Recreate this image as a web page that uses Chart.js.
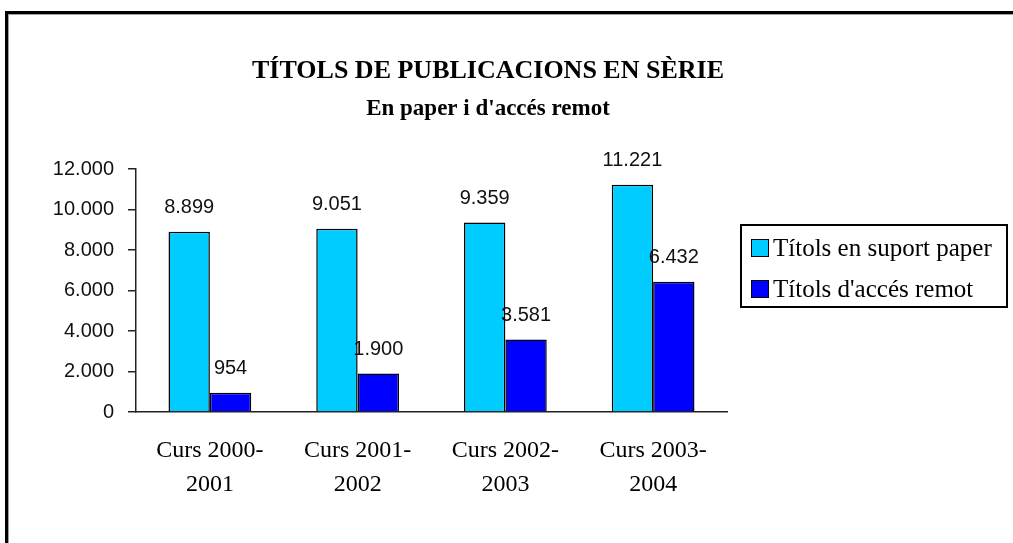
<!DOCTYPE html>
<html>
<head>
<meta charset="utf-8">
<title>Títols de publicacions en sèrie</title>
<script src="https://cdn.jsdelivr.net/npm/chart.js@4.4.1/dist/chart.umd.min.js"></script>
<style>
  html, body { margin: 0; padding: 0; background: #fff; overflow: hidden; }
  #wrap { position: relative; width: 1013px; height: 543px; }
  #frame {
    position: absolute; left: 5px; top: 11px; width: 2000px; height: 2000px;
    border-top: 3px solid #000; border-left: 3px solid #000;
    box-shadow: inset 1px 1px 0 #a0a0a0;
    pointer-events: none;
  }
  canvas { position: absolute; left: 0; top: 0; }
</style>
</head>
<body>
<div id="wrap">
  <canvas id="chart" width="1013" height="543"></canvas>
  <div id="frame"></div>
</div>
<script>
// data
const categories = [["Curs 2000-", "2001"], ["Curs 2001-", "2002"], ["Curs 2002-", "2003"], ["Curs 2003-", "2004"]];
const paperValues  = [8899, 9051, 9359, 11221];
const remoteValues = [954, 1900, 3581, 6432];
const seriesNames  = ["Títols en suport paper", "Títols d'accés remot"];
const titleLines   = ["TÍTOLS DE PUBLICACIONS EN SÈRIE", "En paper i d'accés remot"];
const yMax = 12000, yStep = 2000;

const serif = "'Liberation Serif', 'Times New Roman', serif";
const sans  = "'Liberation Sans', Arial, sans-serif";

// 12000 -> "12.000"
function fmt(v) {
  return String(v).replace(/\B(?=(\d{3})+(?!\d))/g, ".");
}

// two-line heading
const headingPlugin = {
  id: "heading",
  afterDraw(chart) {
    const ctx = chart.ctx;
    ctx.save();
    ctx.fillStyle = "#000";
    ctx.textAlign = "center";
    ctx.textBaseline = "alphabetic";
    ctx.font = "bold 26px " + serif;
    ctx.fillText(titleLines[0], 488, 78);
    ctx.font = "bold 23px " + serif;
    ctx.fillText(titleLines[1], 488, 115);
    ctx.restore();
  }
};

// numbers above each bar
const valueLabels = {
  id: "valueLabels",
  afterDatasetsDraw(chart) {
    const ctx = chart.ctx;
    ctx.save();
    ctx.fillStyle = "#111";
    ctx.font = "20px " + sans;
    ctx.textAlign = "center";
    ctx.textBaseline = "middle";
    chart.data.datasets.forEach((ds, i) => {
      chart.getDatasetMeta(i).data.forEach((bar, j) => {
        ctx.fillText(fmt(ds.data[j]), bar.x, bar.y - 24);
      });
    });
    ctx.restore();
  }
};

// boxed legend on the right
const boxLegend = {
  id: "boxLegend",
  afterDraw(chart) {
    const ctx = chart.ctx;
    const x = 741, y = 225, w = 266, h = 82;
    ctx.save();
    ctx.strokeStyle = "#000";
    ctx.lineWidth = 2;
    ctx.strokeRect(x, y, w, h);
    ctx.font = "25px " + serif;
    ctx.textBaseline = "middle";
    chart.data.datasets.forEach((ds, i) => {
      const cy = y + 23 + i * 41;
      ctx.fillStyle = ds.backgroundColor;
      ctx.fillRect(x + 10, cy - 9, 18, 18);
      ctx.lineWidth = 1;
      ctx.strokeRect(x + 10.5, cy - 8.5, 17, 17);
      ctx.fillStyle = "#000";
      ctx.fillText(ds.label, x + 32, cy + 1);
    });
    ctx.restore();
  }
};

new Chart(document.getElementById("chart"), {
  type: "bar",
  data: {
    labels: categories,
    datasets: [
      { label: seriesNames[0], data: paperValues,  backgroundColor: "#00CCFF", borderColor: "#000", borderWidth: 1.5 },
      { label: seriesNames[1], data: remoteValues, backgroundColor: "#0000FF", borderColor: "#000", borderWidth: 1.5 }
    ]
  },
  options: {
    responsive: false,
    animation: false,
    layout: { padding: { left: 20, right: 286, top: 169, bottom: 20 } },
    datasets: { bar: { categoryPercentage: 0.56, barPercentage: 1 } },
    plugins: {
      legend: { display: false },
      title: { display: false },
      tooltip: { enabled: false }
    },
    scales: {
      x: {
        grid: { display: false },
        border: { display: true, color: "#222", width: 1.5 },
        ticks: {
          color: "#000",
          padding: 14,
          maxRotation: 0,
          font: { family: serif, size: 24, lineHeight: 1.4 }
        },
        afterFit(scale) { scale.height = 111; }
      },
      y: {
        min: 0,
        max: yMax,
        grid: { drawOnChartArea: false, drawTicks: true, tickLength: 8, color: "#222", lineWidth: 1.5 },
        border: { display: true, color: "#222", width: 1.5 },
        ticks: {
          stepSize: yStep,
          color: "#111",
          padding: 14,
          font: { family: sans, size: 20 },
          callback: v => fmt(v)
        },
        afterFit(scale) { scale.width = 116; }
      }
    }
  },
  plugins: [headingPlugin, valueLabels, boxLegend]
});
</script>
</body>
</html>
